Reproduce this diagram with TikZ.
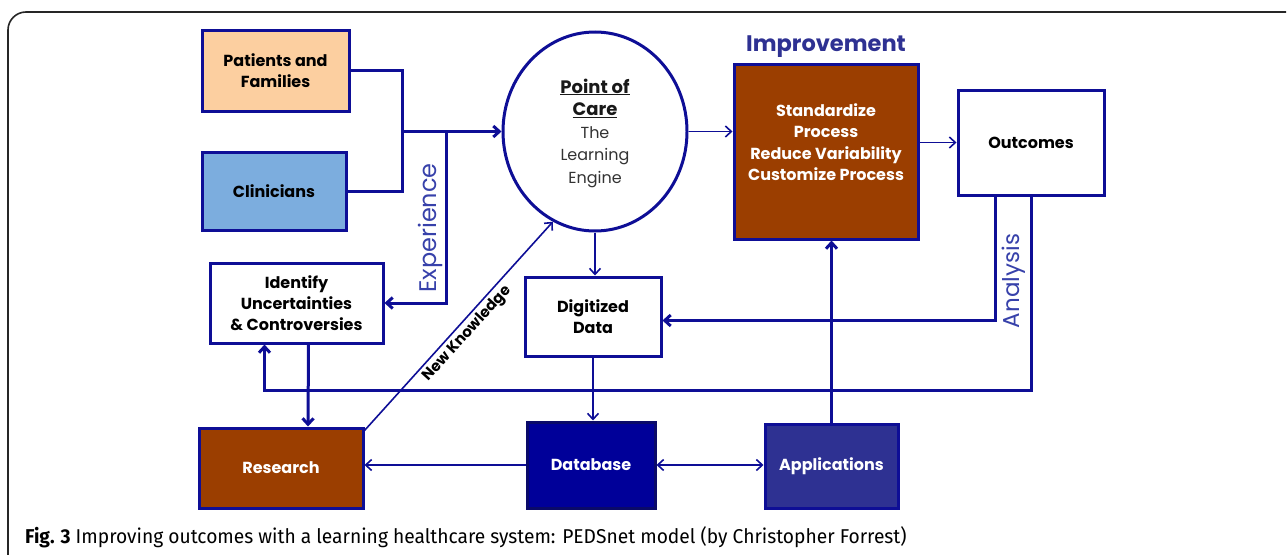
\documentclass[tikz,border=0pt]{standalone}
\usepackage{fontspec}
\setmainfont{Poppins}
\newfontfamily\capfont{Fira Sans}
\usetikzlibrary{arrows.meta,shapes.geometric}
\definecolor{navy}{RGB}{14,14,150}
\definecolor{dbblue}{RGB}{0,0,153}
\definecolor{appblue}{RGB}{46,49,146}
\definecolor{brown}{RGB}{155,62,0}
\definecolor{peach}{RGB}{252,207,160}
\definecolor{sky}{RGB}{124,173,222}
\definecolor{lblue}{RGB}{55,65,170}
\begin{document}
\begin{tikzpicture}[x=1pt,y=-1pt,>={Straight Barb[length=6pt,width=11pt]},
  box/.style={draw=navy,line width=3pt,align=center,font=\fontsize{16}{21}\selectfont\bfseries},
  thick link/.style={navy,line width=3pt},
  thin link/.style={navy,line width=1.6pt}]
\useasboundingbox (0,0) rectangle (1287,554);
\draw[line width=1.6pt,black!85] (8,560) -- (8,30) arc (180:270:18) -- (1286,12);
\node[box,fill=peach,minimum width=147pt,minimum height=81pt] (pat) at (275.5,70.5) {Patients and\\Families};
\node[box,fill=sky,minimum width=144pt,minimum height=78pt] (cli) at (274,191) {Clinicians};
\node[ellipse,draw=navy,line width=3pt,minimum width=184pt,minimum height=199pt,align=center] (poc) at (595,131.5) {};
\node[align=center,font=\fontsize{18}{22.5}\selectfont\bfseries,black!90] at (595,133) {\underline{Point of}\\\underline{Care}\\\fontsize{16}{22}\selectfont\mdseries\color{black!80}The\\\fontsize{16}{22}\selectfont\mdseries\color{black!80}Learning\\\fontsize{16}{22}\selectfont\mdseries\color{black!80}Engine};
\node[font=\fontsize{22.5}{26}\selectfont\bfseries,appblue] at (826,47) {Improvement};
\node[box,fill=brown,minimum width=184pt,minimum height=175pt] (std) at (826,151.5) {};
\node[align=center,white,font=\fontsize{16}{21.5}\selectfont\bfseries] at (826,142) {Standardize\\Process\\Reduce Variability\\Customize Process};
\node[box,fill=white,minimum width=146pt,minimum height=105pt] (out) at (1031,142.5) {Outcomes};
\node[box,fill=white,minimum width=173pt,minimum height=80pt] (idf) at (296.5,303) {Identify\\Uncertainties\\\& Controversies};
\node[box,fill=white,minimum width=136pt,minimum height=79pt] (dig) at (593,316.5) {Digitized\\Data};
\node[box,fill=brown,text=white,minimum width=164pt,minimum height=80pt] (res) at (281,468) {Research};
\node[box,draw=navy!70!black,fill=dbblue,text=white,minimum width=128pt,minimum height=86pt] (db) at (591,465) {Database};
\node[box,fill=appblue,text=white,minimum width=133pt,minimum height=84pt] (app) at (831.5,466) {Applications};
% experience feeds the engine
\coordinate (jn) at (402,131.5);
\coordinate (ex) at (446,131.5);
\draw[thick link] (pat.east) -| (jn) |- (cli.east);
\draw[thick link,->] (jn) -- (poc.west);
\draw[thick link,->] (ex) |- (idf.east);
\node[rotate=90,lblue,font=\fontsize{24}{26}\selectfont] at (430,228) {Experience};
\draw[thin link,->] (poc.east) -- (poc.east -| std.west);
\draw[thin link,->] (std.east |- out.west) -- (out.west);
\draw[thin link,->] (poc.south) -- (poc.south |- dig.north);
% analysis loops
\draw[thick link,->] ([xshift=-36pt]out.south) |- ([yshift=-4pt]dig.east);
\draw[thick link,->] (out.south) -- ++(0,194) -| ([xshift=-32pt]idf.south);
\node[rotate=90,lblue,font=\fontsize{23}{26}\selectfont] at (1014,281) {Analysis};
\draw[thick link,->] ([xshift=12pt]idf.south) -- ([xshift=27pt]res.north);
\draw[thin link,->] ([yshift=-4pt]res.north east) -- (poc.245) node[midway,sloped,below,black,font=\fontsize{15}{17}\selectfont\bfseries] {New Knowledge};
\draw[thin link,->] (dig.south) -- (dig.south |- db.north);
\draw[thin link,->] (db.west) -- (db.west -| res.east);
\draw[thin link,<->] (db.east) -- (db.east -| app.west);
\draw[thick link,->] (app.north) -- (app.north |- std.south);
\node[anchor=base west,inner sep=0pt,font=\capfont\fontsize{20}{22}\selectfont] at (25,543) {\scalebox{0.96}[1]{\textbf{Fig. 3} Improving outcomes with a learning healthcare system: PEDSnet model (by Christopher Forrest)}};
\end{tikzpicture}
\end{document}
